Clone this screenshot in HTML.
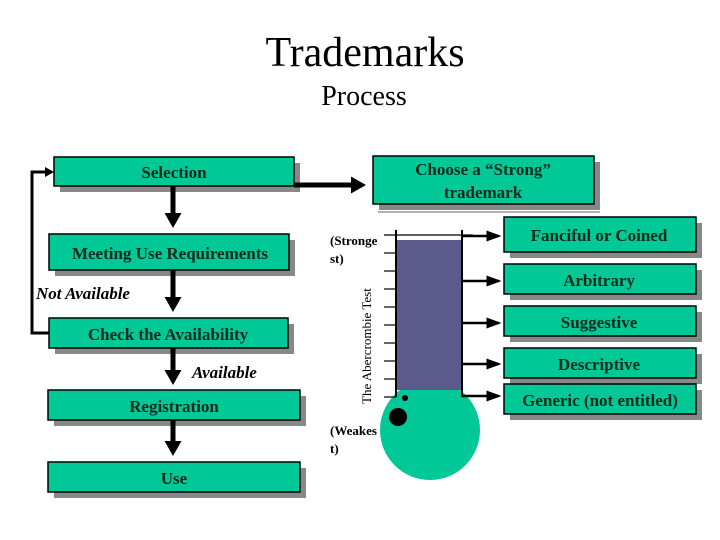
<!DOCTYPE html>
<html><head><meta charset="utf-8"><style>
body{margin:0;background:#fff;}
svg{display:block;}
text{font-family:"Liberation Serif",serif;}
.b{fill:#00c896;stroke:#000;stroke-width:1.5;}
.s{fill:#888;}
.t{font-weight:bold;font-size:17px;fill:#0a2a1a;}
</style></head><body>
<svg width="720" height="540" viewBox="0 0 720 540">
<defs><marker id="a" markerWidth="4" markerHeight="4" refX="2.2" refY="2" orient="auto" markerUnits="strokeWidth"><path d="M0,0.3 L3,2 L0,3.7z" fill="#000"/></marker>
<marker id="c" markerWidth="6" markerHeight="6" refX="5" refY="3" orient="auto" markerUnits="strokeWidth"><path d="M0,0.8 L6,3 L0,5.2z" fill="#000"/></marker></defs>
<text x="365" y="66" text-anchor="middle" font-size="42">Trademarks</text>
<text x="364" y="105" text-anchor="middle" font-size="28">Process</text>

<rect class="s" x="60" y="163" width="240" height="29"/>
<rect class="s" x="55" y="240" width="240" height="36"/>
<rect class="s" x="55" y="324" width="239" height="30"/>
<rect class="s" x="54" y="396" width="252" height="30"/>
<rect class="s" x="54" y="468" width="252" height="30"/>
<rect class="s" x="379" y="162" width="221" height="48"/>
<rect class="s" x="510" y="223" width="192" height="35"/>
<rect class="s" x="510" y="270" width="192" height="30"/>
<rect class="s" x="510" y="312" width="192" height="30"/>
<rect class="s" x="510" y="354" width="192" height="30"/>
<rect class="s" x="510" y="390" width="192" height="30"/>

<g stroke="#000" stroke-width="5" fill="none">
<line x1="173" y1="186" x2="173" y2="224" marker-end="url(#a)"/>
<line x1="173" y1="270" x2="173" y2="308" marker-end="url(#a)"/>
<line x1="173" y1="348" x2="173" y2="381" marker-end="url(#a)"/>
<line x1="173" y1="420" x2="173" y2="452" marker-end="url(#a)"/>
<line x1="294" y1="185" x2="362" y2="185" marker-end="url(#a)"/>
</g>
<polyline points="50,333 32,333 32,172 46,172" stroke="#000" stroke-width="3" fill="none"/>
<path d="M54,172 L45,167 L45,177z" fill="#000"/>

<rect class="b" x="54" y="157" width="240" height="29"/>
<text class="t" x="174" y="178" text-anchor="middle">Selection</text>
<rect class="b" x="49" y="234" width="240" height="36"/>
<text class="t" x="170" y="259" text-anchor="middle">Meeting Use Requirements</text>
<text x="36" y="299" font-size="17" font-weight="bold" font-style="italic">Not Available</text>
<rect class="b" x="49" y="318" width="239" height="30"/>
<text class="t" x="168" y="340" text-anchor="middle">Check the Availability</text>
<text x="192" y="378" font-size="17" font-weight="bold" font-style="italic">Available</text>
<rect class="b" x="48" y="390" width="252" height="30"/>
<text class="t" x="174" y="412" text-anchor="middle">Registration</text>
<rect class="b" x="48" y="462" width="252" height="30"/>
<text class="t" x="174" y="484" text-anchor="middle">Use</text>

<rect class="b" x="373" y="156" width="221" height="48"/>
<text class="t" x="483" y="175" text-anchor="middle">Choose a “Strong”</text>
<text class="t" x="483" y="198" text-anchor="middle">trademark</text>

<line x1="378" y1="212" x2="600" y2="212" stroke="#999" stroke-width="1.5"/>
<circle cx="430" cy="430" r="50" fill="#00c896"/>
<rect x="396" y="240" width="67" height="150" fill="#5a5a8c"/>
<g stroke="#000" stroke-width="1.2">
<line x1="384" y1="235" x2="473" y2="235"/>
<line x1="384" y1="253" x2="396" y2="253"/><line x1="384" y1="271" x2="396" y2="271"/>
<line x1="384" y1="289" x2="396" y2="289"/><line x1="384" y1="307" x2="396" y2="307"/>
<line x1="384" y1="325" x2="396" y2="325"/><line x1="384" y1="343" x2="396" y2="343"/>
<line x1="384" y1="361" x2="396" y2="361"/><line x1="384" y1="379" x2="396" y2="379"/>
<line x1="384" y1="397" x2="396" y2="397"/>
</g>
<line x1="396" y1="230" x2="396" y2="397" stroke="#000" stroke-width="2"/>
<line x1="462" y1="230" x2="462" y2="397" stroke="#000" stroke-width="2"/>
<circle cx="398" cy="417" r="9" fill="#000"/>
<circle cx="405" cy="398" r="3" fill="#000"/>
<g stroke="#000" stroke-width="2.5">
<line x1="462" y1="236" x2="499" y2="236" marker-end="url(#c)"/>
<line x1="462" y1="281" x2="499" y2="281" marker-end="url(#c)"/>
<line x1="462" y1="323" x2="499" y2="323" marker-end="url(#c)"/>
<line x1="462" y1="364" x2="499" y2="364" marker-end="url(#c)"/>
<line x1="462" y1="396" x2="499" y2="396" marker-end="url(#c)"/>
</g>
<text x="330" y="245" font-size="13" font-weight="bold">(Stronge</text>
<text x="330" y="263" font-size="13" font-weight="bold">st)</text>
<text x="330" y="435" font-size="13" font-weight="bold">(Weakes</text>
<text x="330" y="453" font-size="13" font-weight="bold">t)</text>
<text transform="translate(371,404) rotate(-90)" font-size="13">The Abercrombie Test</text>

<rect class="b" x="504" y="217" width="192" height="35"/>
<text class="t" x="599" y="241" text-anchor="middle">Fanciful or Coined</text>
<rect class="b" x="504" y="264" width="192" height="30"/>
<text class="t" x="599" y="286" text-anchor="middle">Arbitrary</text>
<rect class="b" x="504" y="306" width="192" height="30"/>
<text class="t" x="599" y="328" text-anchor="middle">Suggestive</text>
<rect class="b" x="504" y="348" width="192" height="30"/>
<text class="t" x="599" y="370" text-anchor="middle">Descriptive</text>
<rect class="b" x="504" y="384" width="192" height="30"/>
<text class="t" x="600" y="406" text-anchor="middle">Generic (not entitled)</text>
</svg>
</body></html>
